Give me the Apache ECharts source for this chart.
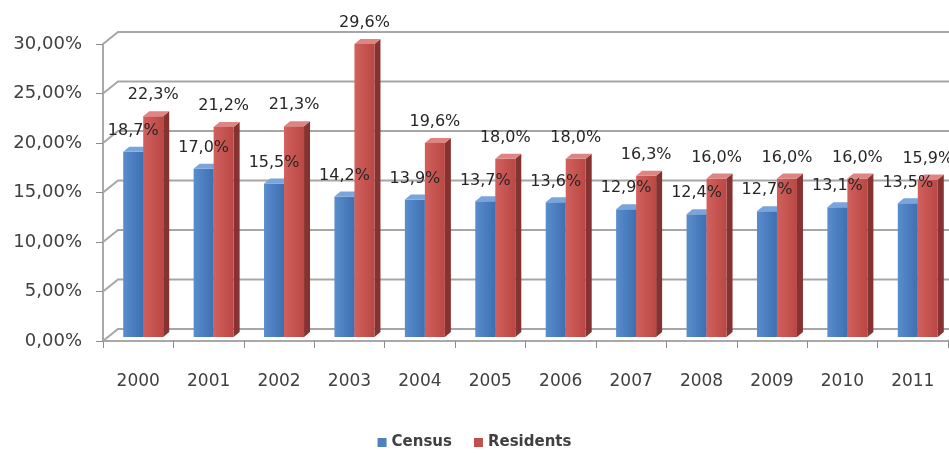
<!DOCTYPE html>
<html>
<head>
<meta charset="utf-8">
<script src="https://cdn.jsdelivr.net/npm/echarts@6/dist/echarts.min.js"></script>
<style>
  html, body { margin: 0; padding: 0; background: #ffffff; }
  #chart { width: 949px; height: 453px; }
</style>
</head>
<body>
<div id="chart"></div>
<script>
// Years on the category axis
const years = ['2000', '2001', '2002', '2003', '2004', '2005', '2006', '2007', '2008', '2009', '2010', '2011'];
// Percentages per year
const census = [18.7, 17.0, 15.5, 14.2, 13.9, 13.7, 13.6, 12.9, 12.4, 12.7, 13.1, 13.5];
const residents = [22.3, 21.2, 21.3, 29.6, 19.6, 18.0, 18.0, 16.3, 16.0, 16.0, 16.0, 15.9];
// Value-axis levels used for the wall lines
const yLevels = [0, 5, 10, 15, 20, 25, 30];

const fmtPct1 = v => v.toFixed(1).replace('.', ',') + '%';
const fmtPct2 = v => v.toFixed(2).replace('.', ',') + '%';

// depth of the back wall and of the bar solids (pixels)
const WALL_DX = 15, WALL_DY = -12;
const BAR_DX = 5, BAR_DY = -4;
const BAR_W = 20, SIDE_DX = 6, SIDE_DY = -5;

const palettes = [
  { front: ['#5a8dce', '#3e70b1'], side: '#2f5587', top: '#7aa5dc' },
  { front: ['#d2605d', '#b94744'], side: '#853230', top: '#de8482' }
];

function barRenderer(k) {
  const pal = palettes[k];
  return function (params, api) {
    const ci = api.value(0), v = api.value(1);
    const base = api.coord([ci, 0]);
    const topPt = api.coord([ci, v]);
    const gc = base[0] + BAR_DX;
    const x = k === 0 ? gc - BAR_W : gc;
    const yb = base[1] + BAR_DY;
    const yt = topPt[1] + BAR_DY;
    return {
      type: 'group',
      children: [
        {
          type: 'polygon',
          shape: { points: [[x + BAR_W, yt], [x + BAR_W + SIDE_DX, yt + SIDE_DY], [x + BAR_W + SIDE_DX, yb + SIDE_DY], [x + BAR_W, yb]] },
          style: { fill: pal.side }
        },
        {
          type: 'rect',
          shape: { x: x, y: yt, width: BAR_W, height: yb - yt },
          style: {
            fill: new echarts.graphic.LinearGradient(0, 0, 1, 0, [
              { offset: 0, color: pal.front[0] },
              { offset: 1, color: pal.front[1] }
            ])
          }
        },
        {
          type: 'polygon',
          shape: { points: [[x, yt], [x + SIDE_DX, yt + SIDE_DY], [x + BAR_W + SIDE_DX, yt + SIDE_DY], [x + BAR_W, yt]] },
          style: { fill: pal.top }
        }
      ]
    };
  };
}

function labelRenderer(k) {
  return function (params, api) {
    const ci = api.value(0), v = api.value(1);
    const base = api.coord([ci, 0]);
    const topPt = api.coord([ci, v]);
    const gc = base[0] + BAR_DX;
    const cx = k === 0 ? gc - BAR_W / 2 : gc + BAR_W / 2;
    return {
      type: 'text',
      style: {
        x: cx, y: topPt[1] + BAR_DY - 21,
        text: fmtPct1(v),
        fill: '#262626',
        font: '16px "DejaVu Sans"',
        align: 'center', verticalAlign: 'middle'
      }
    };
  };
}

// back wall and floor lines at each value level
function wallRenderer(params, api) {
  const v = api.value(1);
  const cs = params.coordSys;
  const y = api.coord([0, v])[1];
  const x0 = cs.x;
  const children = [{
    type: 'polyline',
    shape: { points: [[x0, y], [x0 + WALL_DX, y + WALL_DY], [x0 + cs.width + WALL_DX, y + WALL_DY]] },
    style: { stroke: '#a6a6a6', lineWidth: 2, fill: null }
  }];
  if (v === 0) {
    children.push({
      type: 'line',
      shape: { x1: x0 + cs.width, y1: y, x2: x0 + cs.width + WALL_DX, y2: y + WALL_DY },
      style: { stroke: '#a6a6a6', lineWidth: 2 }
    });
  }
  return { type: 'group', children: children };
}

const chart = echarts.init(document.getElementById('chart'), null, { renderer: 'canvas' });

chart.setOption({
  animation: false,
  backgroundColor: '#ffffff',
  grid: { left: 103, right: 1, top: 44, bottom: 112 },
  legend: {
    data: ['Census', 'Residents'],
    top: 430,
    left: 'center',
    icon: 'rect',
    itemWidth: 9,
    itemHeight: 9,
    itemGap: 22,
    textStyle: { fontFamily: 'DejaVu Sans', fontSize: 15, fontWeight: 'bold', color: '#404040' }
  },
  xAxis: {
    type: 'category',
    data: years,
    axisLine: { show: true, lineStyle: { color: '#8c8c8c', width: 1.5 } },
    axisTick: { show: true, length: 7, lineStyle: { color: '#8c8c8c' } },
    axisLabel: { margin: 32, fontFamily: 'DejaVu Sans', fontSize: 17, color: '#404040' },
    splitLine: { show: false }
  },
  yAxis: {
    type: 'value',
    min: 0, max: 30, interval: 5,
    axisLine: { show: true, lineStyle: { color: '#8c8c8c', width: 1.5 } },
    axisTick: { show: true, length: 7, lineStyle: { color: '#8c8c8c' } },
    axisLabel: { margin: 21, fontFamily: 'DejaVu Sans', fontSize: 18, color: '#404040', formatter: fmtPct2 },
    splitLine: { show: false }
  },
  series: [
    {
      type: 'custom', name: 'wall', silent: true, z: 1, clip: false,
      renderItem: wallRenderer,
      data: yLevels.map(v => [0, v])
    },
    {
      type: 'custom', name: 'Census', z: 2, clip: false,
      itemStyle: { color: '#4f81bd' },
      renderItem: barRenderer(0),
      data: census.map((v, i) => [i, v])
    },
    {
      type: 'custom', name: 'Residents', z: 3, clip: false,
      itemStyle: { color: '#c0504d' },
      renderItem: barRenderer(1),
      data: residents.map((v, i) => [i, v])
    },
    {
      type: 'custom', name: 'censusLabels', z: 5, silent: true, clip: false,
      renderItem: labelRenderer(0),
      data: census.map((v, i) => [i, v])
    },
    {
      type: 'custom', name: 'residentsLabels', z: 5, silent: true, clip: false,
      renderItem: labelRenderer(1),
      data: residents.map((v, i) => [i, v])
    }
  ]
});
</script>
</body>
</html>
